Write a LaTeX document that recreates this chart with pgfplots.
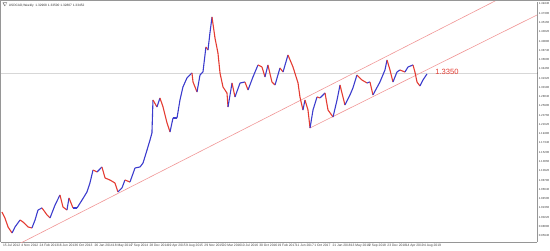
\documentclass[border=0pt]{standalone}
\usepackage{pgfplots}
\pgfplotsset{compat=1.18}
\usepackage{pgfplotstable}
\usepackage{fontspec}
\setmainfont{Liberation Sans}
\definecolor{upc}{RGB}{60,60,205}
\definecolor{dnc}{RGB}{228,60,50}
\definecolor{chan}{RGB}{240,150,150}
\definecolor{hline}{RGB}{215,215,215}
\definecolor{frm}{RGB}{150,150,150}

\pgfplotstableread{
w v c
-0.9 1.0139 0
1.7 1.0001 0
4.4 0.9793 0
7.9 0.9654 1
10.5 0.9793 1
14.9 0.9954 0
17.5 0.9908 0
21.9 0.9793 0
25.3 0.9770 1
28.0 0.9954 1
30.6 1.0185 1
34.1 1.0232 0
38.5 1.0070 0
41.1 1.0001 1
45.5 1.0301 1
49.8 1.0532 0
52.4 1.0255 0
55.9 1.0185 1
57.7 1.0463 0
61.2 1.0232 1
64.7 1.0232 1
69.1 1.0416 1
73.4 1.0601 1
76.0 1.0809 1
78.7 1.1109 0
82.2 1.1063 1
86.5 1.1179 0
89.2 1.0925 0
93.5 1.0878 0
97.9 1.0809 0
100.5 1.0601 1
104.0 1.0694 1
106.6 1.0878 0
111.0 1.0832 1
115.4 1.1156 1
119.8 1.1179 1
122.4 1.1271 1
125.9 1.1571 1
128.5 1.1802 1
130.2 1.1964 1
131.1 1.2726 0
134.6 1.2565 1
137.2 1.2773 0
139.9 1.2565 0
143.4 1.2195 0
146.0 1.1987 1
148.6 1.2311 1
152.1 1.2311 1
154.7 1.2726 1
157.3 1.3027 1
160.8 1.3235 1
165.2 1.3350 0
166.1 1.3142 0
169.6 1.2911 1
172.2 1.3304 1
174.8 1.3373 1
177.4 1.3951 0
179.2 1.3881 1
180.9 1.4274 1
182.7 1.4644 0
185.3 1.4159 0
187.9 1.3812 0
189.7 1.3350 0
192.3 1.3027 0
195.8 1.2888 0
196.7 1.2565 1
200.2 1.3119 0
202.8 1.2796 1
207.2 1.3119 1
211.5 1.3142 0
214.2 1.2957 1
218.5 1.3258 1
222.9 1.3535 0
226.4 1.3489 0
229.0 1.3258 1
231.6 1.3535 0
235.1 1.3142 0
237.8 1.3073 1
242.1 1.3466 0
244.8 1.3373 1
249.1 1.3766 0
253.5 1.3489 0
257.9 1.3119 0
259.6 1.2796 0
262.2 1.2495 1
264.0 1.2726 0
266.6 1.2495 0
268.4 1.2080 1
271.0 1.2495 1
274.5 1.2796 0
277.1 1.2773 1
281.5 1.2888 0
284.1 1.2495 0
288.5 1.2334 1
292.0 1.2726 1
294.6 1.3073 0
298.9 1.2611 1
303.3 1.2842 1
305.9 1.3004 1
309.4 1.3304 0
313.8 1.3188 0
318.2 1.3119 1
320.8 1.3142 0
323.4 1.2842 1
329.5 1.3142 1
333.9 1.3419 1
335.7 1.3650 0
338.3 1.3419 0
340.9 1.3142 1
344.4 1.3373 1
347.0 1.3419 0
351.4 1.3373 1
354.0 1.3489 1
358.4 1.3535 0
360.1 1.3373 0
361.9 1.3142 0
364.5 1.3050 1
367.1 1.3188 1
370.6 1.3327 1
}\price

\begin{document}
\begin{tikzpicture}[x=1pt,y=1pt]
\path[use as bounding box] (0,0) rectangle (550,250);
\draw[frm, line width=1pt] (0.5,8) -- (0.5,249.5) -- (550,249.5);
\begin{axis}[
  at={(1pt,8pt)}, anchor=south west,
  width=536pt, height=240pt, scale only axis,
  xmin=-1.75, xmax=466.8, ymin=0.9446, ymax=1.4990,
  axis line style={frm, line width=0.5pt},
  separate axis lines,
  axis x line*=bottom, axis y line*=right,
  xtick={0,16,32,48,64,80,96,112,128,144,160,176,192,208,224,240,256,272,288,304,320,336,352,368},
  xticklabels={15 Jul 2012,4 Nov 2012,24 Feb 2013,16 Jun 2013,6 Oct 2013,26 Jan 2014,18 May 2014,7 Sep 2014,28 Dec 2014,19 Apr 2015,9 Aug 2015,29 Nov 2015,20 Mar 2016,10 Jul 2016,30 Oct 2016,19 Feb 2017,11 Jun 2017,1 Oct 2017,21 Jan 2018,13 May 2018,2 Sep 2018,23 Dec 2018,14 Apr 2019,4 Aug 2019},
  xticklabel style={anchor=north west, inner sep=0.5pt, xshift=-0.6pt, font=\fontsize{3.3}{4}\selectfont, text=black!75},
  ytick={1.4944,1.4730,1.4516,1.4302,1.4088,1.3874,1.3660,1.3446,1.3232,1.3018,1.2804,1.2590,1.2376,1.2162,1.1948,1.1734,1.1520,1.1306,1.1092,1.0878,1.0664,1.0450,1.0236,1.0022,0.9808,0.9594},
  yticklabel style={anchor=west, inner sep=0pt, xshift=0.4pt, font=\fontsize{2.9}{3.5}\selectfont, text=black!75,
    /pgf/number format/.cd, fixed, fixed zerofill, precision=5, assume math mode=true},
  tick align=outside, major tick length=1.2pt,
  tick style={frm, line width=0.4pt},
  clip=true,
]
\addplot[hline, line width=0.6pt, forget plot] coordinates {(-1.75,1.335) (466.8,1.335)};
\addplot[chan, line width=0.6pt] coordinates {(8.7,0.933) (431.8,1.5036)};
\addplot[chan, line width=0.6pt] coordinates {(268.4,1.208) (466.8,1.469)};
\addplot[mesh, shader=flat corner, line width=1.1pt, point meta=explicit,
  colormap={updown}{color=(dnc) color=(upc)}, point meta min=0, point meta max=1]
  table[x=w, y=v, meta=c] {\price};
\node[text=dnc, font=\fontsize{7.6}{8}\selectfont] at (axis cs:388.1,1.3365) {1.3350};
\node[fill=black, text=white, inner sep=0.3pt, anchor=west, font=\fontsize{2.9}{3.5}\selectfont] at (axis cs:466.8,1.335) {1.33500};
\end{axis}
\node[anchor=west, font=\fontsize{3.2}{4}\selectfont, text=black!80, inner sep=0pt] at (2,245) {$\nabla$ USDCAD,Weekly\ \ 1.32968 1.33500 1.32807 1.33452};
\end{tikzpicture}
\end{document}
